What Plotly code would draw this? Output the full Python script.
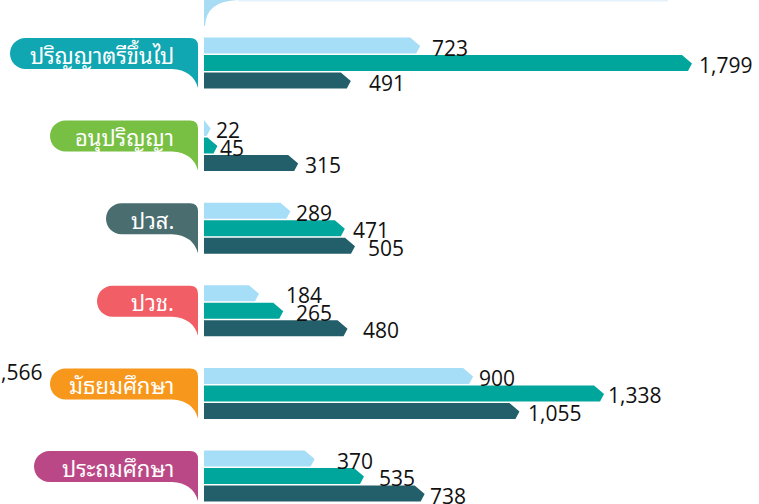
import plotly.graph_objects as go

# ---------------- data ----------------
categories = ["ปริญญาตรีขึ้นไป", "อนุปริญญา", "ปวส.", "ปวช.", "มัธยมศึกษา", "ประถมศึกษา"]
series_light = [723, 22, 289, 184, 900, 370]
series_teal = [1799, 45, 471, 265, 1338, 535]
series_dark = [491, 315, 505, 480, 1055, 738]
offscreen_label = "1,566"

# ---------------- styling / layout ----------------
W, H = 759, 504
X0_PX, XS = 204, 0.299      # pixel of x=0, pixels per unit
Y0_PX, YS = 63, 82.6        # pixel of first group, pixels per group
BAR_CAP = 1632              # infographic truncates the longest bar
BAR_PITCH, BAR_HALF = 17.5, 8.0
series_colors = ["#a6ddf7", "#00a69c", "#225f6b"]
tag_colors = ["#10a6b2", "#78c043", "#4a6d6f", "#f15e66", "#f7981d", "#bb4886"]
tag_left_px = [10, 50, 106, 97, 50, 34]
label_gap = [[10, 3, 4, 25, 4, 20], [5, 1, 6, 11, 2, 13], [16, 5, 11, 13, 7, 3]]
NUM_FONT = dict(family="Open Sans, Liberation Sans, sans-serif", size=21, color="#111111")
THAI_FONT = dict(family="Noto Sans Thai Looped, Noto Sans Thai, Tahoma, Noto Sans, sans-serif", size=22, color="white")

x_range = [-X0_PX / XS, (W - X0_PX) / XS]
y_range = [(H - Y0_PX) / YS, -Y0_PX / YS]


def px2x(p):
    return (p - X0_PX) / XS


fig = go.Figure()
annotations = []
shapes = []

all_series = [series_light, series_teal, series_dark]
for k, vals in enumerate(all_series):
    xs, ys = [], []
    for i, v in enumerate(vals):
        yc = i + (k - 1) * BAR_PITCH / YS
        h = BAR_HALF / YS
        xe = min(v, BAR_CAP)
        xt = max(0, xe - 10 / XS)
        xb = max(0, xe - 4 / XS)
        xs += [0, xt, xe, xb, 0, 0, None]
        ys += [yc - h, yc - h, yc + 0.5 / YS, yc + h, yc + h, yc - h, None]
        annotations.append(dict(
            x=xe, y=yc, xref="x", yref="y", text=f"{v:,}", showarrow=False,
            xanchor="left", yanchor="middle", xshift=label_gap[k][i], yshift=-2,
            font=NUM_FONT))
    fig.add_trace(go.Scatter(
        x=xs, y=ys, mode="lines", fill="toself", fillcolor=series_colors[k],
        line=dict(width=0, color=series_colors[k]), hoverinfo="skip", showlegend=False))

# category tags (speech-bubble shapes)
kk = 0.5523
for i, cat in enumerate(categories):
    def Y(dp):
        return i + dp / YS
    L = tag_left_px[i]
    R = 198
    T, B, TB = -25, 6, 25
    r = (B - T) / 2
    cy = (T + B) / 2
    pts = [
        f"M {px2x(L + r)},{Y(T)}",
        f"L {px2x(R - 8)},{Y(T)}",
        f"Q {px2x(R)},{Y(T)} {px2x(R)},{Y(T + 8)}",
        f"L {px2x(R)},{Y(TB)}",
        f"Q {px2x(R - 5)},{Y(B + 1)} {px2x(R - 26)},{Y(B)}",
        f"L {px2x(L + r)},{Y(B)}",
        f"C {px2x(L + r - kk * r)},{Y(B)} {px2x(L)},{Y(cy + kk * r)} {px2x(L)},{Y(cy)}",
        f"C {px2x(L)},{Y(cy - kk * r)} {px2x(L + r - kk * r)},{Y(T)} {px2x(L + r)},{Y(T)}",
        "Z",
    ]
    shapes.append(dict(type="path", xref="x", yref="y", path=" ".join(pts),
                       fillcolor=tag_colors[i], line=dict(width=0), layer="below"))
    annotations.append(dict(x=px2x(176), y=Y(cy), xref="x", yref="y", text=cat,
                            showarrow=False, xanchor="right", yanchor="middle",
                            font=THAI_FONT))


def PX(p):
    return p / W


def PY(p):
    return 1 - p / H


# top decoration (corner of a box above)
shapes.append(dict(type="path", xref="paper", yref="paper",
                   path=f"M {PX(204)},{PY(0)} L {PX(238)},{PY(0)} Q {PX(206)},{PY(1)} {PX(205)},{PY(26)} L {PX(204)},{PY(26)} Z",
                   fillcolor="#a8dcf5", line=dict(width=0)))
shapes.append(dict(type="line", xref="paper", yref="paper",
                   x0=PX(238), x1=PX(668), y0=PY(0.5), y1=PY(0.5),
                   line=dict(color="#e6f2fb", width=2)))

annotations.append(dict(x=PX(44), y=PY(372), xref="paper", yref="paper", text=offscreen_label,
                        showarrow=False, xanchor="right", yanchor="middle", font=NUM_FONT))

fig.update_layout(
    width=W, height=H, margin=dict(l=0, r=0, t=0, b=0),
    paper_bgcolor="white", plot_bgcolor="white",
    xaxis=dict(range=x_range, visible=False, fixedrange=True),
    yaxis=dict(range=y_range, visible=False, fixedrange=True),
    shapes=shapes, annotations=annotations, showlegend=False,
)

fig.write_html("out.html", config={"displayModeBar": False},
               post_script="document.body.style.margin='0';document.body.style.padding='0';")
